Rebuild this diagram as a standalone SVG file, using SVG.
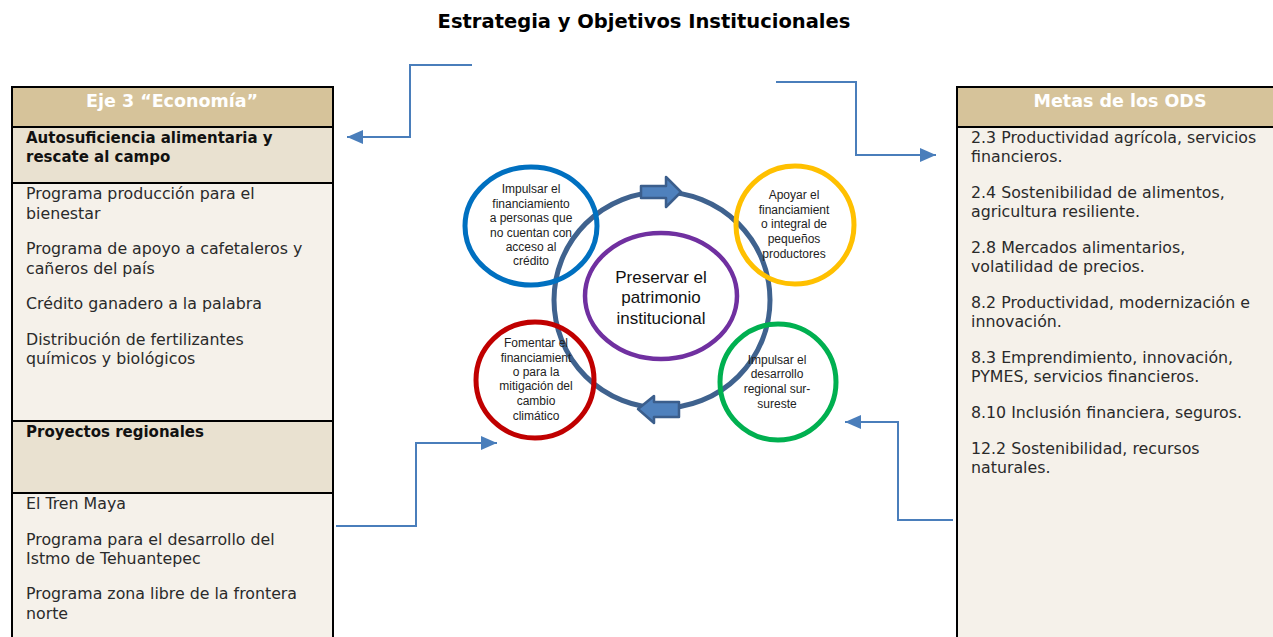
<svg xmlns="http://www.w3.org/2000/svg" width="1273" height="637" viewBox="0 0 1273 637">
<defs>
<style>
.title{font-family:"DejaVu Sans",sans-serif;font-weight:bold;font-size:19.5px;fill:#000;text-anchor:middle}
.hdr{font-family:"DejaVu Sans",sans-serif;font-weight:bold;font-size:17.5px;fill:#fff;text-anchor:middle}
.sec{font-family:"DejaVu Sans",sans-serif;font-weight:bold;font-size:15px;fill:#111}
.body{font-family:"DejaVu Sans",sans-serif;font-size:15.8px;fill:#2a2a2a}
.ctext{font-family:"Liberation Sans",Arial,sans-serif;font-size:12px;fill:#222;text-anchor:middle}
.big{font-family:"Liberation Sans",Arial,sans-serif;font-size:17px;fill:#111;text-anchor:middle}
.frame{stroke:#000;stroke-width:2}
.conn{fill:none;stroke:#4A7EBB;stroke-width:2}
.blk{fill:#4F81BD;stroke:#3B5E8C;stroke-width:2.5;stroke-linejoin:round}
</style>
<marker id="ah" markerUnits="userSpaceOnUse" markerWidth="18" markerHeight="16" refX="16" refY="7" orient="auto">
<path d="M0,0 L16,7 L0,14 Z" fill="#4A7EBB"/>
</marker>
</defs>
<rect width="1273" height="637" fill="#fff"/>
<text class="title" x="644" y="28">Estrategia y Objetivos Institucionales</text>

<g id="eje3">
<rect x="12" y="87" width="321" height="40" fill="#D6C39A"/>
<rect x="12" y="127" width="321" height="56" fill="#E9E1D0"/>
<rect x="12" y="183" width="321" height="238" fill="#F5F1EA"/>
<rect x="12" y="421" width="321" height="72" fill="#E9E1D0"/>
<rect x="12" y="493" width="321" height="150" fill="#F5F1EA"/>
<path class="frame" fill="none" d="M12,645 V87 H333 V645 M12,127 H333 M12,183 H333 M12,421 H333 M12,493 H333"/>
<text class="hdr" x="172" y="107">Eje 3 “Economía”</text>
<text class="sec" x="26" y="143">Autosuficiencia alimentaria y</text>
<text class="sec" x="26" y="162">rescate al campo</text>
<text class="body" x="26" y="199">Programa producción para el</text>
<text class="body" x="26" y="219">bienestar</text>
<text class="body" x="26" y="254">Programa de apoyo a cafetaleros y</text>
<text class="body" x="26" y="274">cañeros del país</text>
<text class="body" x="26" y="309">Crédito ganadero a la palabra</text>
<text class="body" x="26" y="345">Distribución de fertilizantes</text>
<text class="body" x="26" y="364">químicos y biológicos</text>
<text class="sec" x="26" y="437">Proyectos regionales</text>
<text class="body" x="26" y="509">El Tren Maya</text>
<text class="body" x="26" y="545">Programa para el desarrollo del</text>
<text class="body" x="26" y="564">Istmo de Tehuantepec</text>
<text class="body" x="26" y="599">Programa zona libre de la frontera</text>
<text class="body" x="26" y="619">norte</text>
</g>

<g id="ods">
<rect x="957" y="87" width="330" height="40" fill="#D6C39A"/>
<rect x="957" y="127" width="330" height="520" fill="#F5F1EA"/>
<path class="frame" fill="none" d="M957,645 V87 H1290 M957,127 H1290"/>
<text class="hdr" x="1120" y="107">Metas de los ODS</text>
<text class="body" x="971" y="143">2.3 Productividad agrícola, servicios</text>
<text class="body" x="971" y="162">financieros.</text>
<text class="body" x="971" y="198">2.4 Sostenibilidad de alimentos,</text>
<text class="body" x="971" y="217">agricultura resiliente.</text>
<text class="body" x="971" y="253">2.8 Mercados alimentarios,</text>
<text class="body" x="971" y="272">volatilidad de precios.</text>
<text class="body" x="971" y="308">8.2 Productividad, modernización e</text>
<text class="body" x="971" y="327">innovación.</text>
<text class="body" x="971" y="363">8.3 Emprendimiento, innovación,</text>
<text class="body" x="971" y="382">PYMES, servicios financieros.</text>
<text class="body" x="971" y="418">8.10 Inclusión financiera, seguros.</text>
<text class="body" x="971" y="454">12.2 Sostenibilidad, recursos</text>
<text class="body" x="971" y="473">naturales.</text>
</g>

<g id="ciclo">
<circle cx="662" cy="300" r="108" fill="none" stroke="#3F628E" stroke-width="5"/>
<path class="blk" d="M641,186 H666 V177 L681,192 L666,207 V198 H641 Z"/>
<path class="blk" d="M638,409 L654,396 V402 H679 V417 H654 V423 Z"/>
</g>

<g id="preservar">
<ellipse cx="661" cy="296" rx="76" ry="63" fill="none" stroke="#7030A0" stroke-width="4.5"/>
<text class="big" x="661" y="283">Preservar el</text>
<text class="big" x="661" y="303">patrimonio</text>
<text class="big" x="661" y="324">institucional</text>
</g>

<g id="impulsar-financiamiento">
<ellipse cx="531" cy="226" rx="66" ry="59" fill="none" stroke="#0070C0" stroke-width="5"/>
<text class="ctext" x="531" y="193">Impulsar el</text>
<text class="ctext" x="531" y="208">financiamiento</text>
<text class="ctext" x="531" y="222">a personas que</text>
<text class="ctext" x="531" y="237">no cuentan con</text>
<text class="ctext" x="531" y="251">acceso al</text>
<text class="ctext" x="531" y="265">crédito</text>
</g>

<g id="apoyar">
<ellipse cx="795" cy="225" rx="59" ry="59" fill="none" stroke="#FFC000" stroke-width="5"/>
<text class="ctext" x="794" y="199">Apoyar el</text>
<text class="ctext" x="794" y="214">financiamient</text>
<text class="ctext" x="794" y="228">o integral de</text>
<text class="ctext" x="794" y="243">pequeños</text>
<text class="ctext" x="794" y="258">productores</text>
</g>

<g id="fomentar">
<ellipse cx="535" cy="380" rx="59" ry="58" fill="none" stroke="#C00000" stroke-width="5"/>
<text class="ctext" x="536" y="347">Fomentar el</text>
<text class="ctext" x="536" y="362">financiamient</text>
<text class="ctext" x="536" y="376">o para la</text>
<text class="ctext" x="536" y="390">mitigación del</text>
<text class="ctext" x="536" y="405">cambio</text>
<text class="ctext" x="536" y="420">climático</text>
</g>

<g id="desarrollo">
<ellipse cx="778" cy="382" rx="58" ry="58" fill="none" stroke="#00B050" stroke-width="5"/>
<text class="ctext" x="777" y="364">Impulsar el</text>
<text class="ctext" x="777" y="378">desarrollo</text>
<text class="ctext" x="777" y="393">regional sur-</text>
<text class="ctext" x="777" y="408">sureste</text>
</g>

<g id="connectors">
<path class="conn" marker-end="url(#ah)" d="M472,65 H410 V137 H347"/>
<path class="conn" marker-end="url(#ah)" d="M776,82 H856 V155 H936"/>
<path class="conn" marker-end="url(#ah)" d="M336,526 H416 V443 H497"/>
<path class="conn" marker-end="url(#ah)" d="M953,520 H898 V422 H845"/>
</g>
</svg>
